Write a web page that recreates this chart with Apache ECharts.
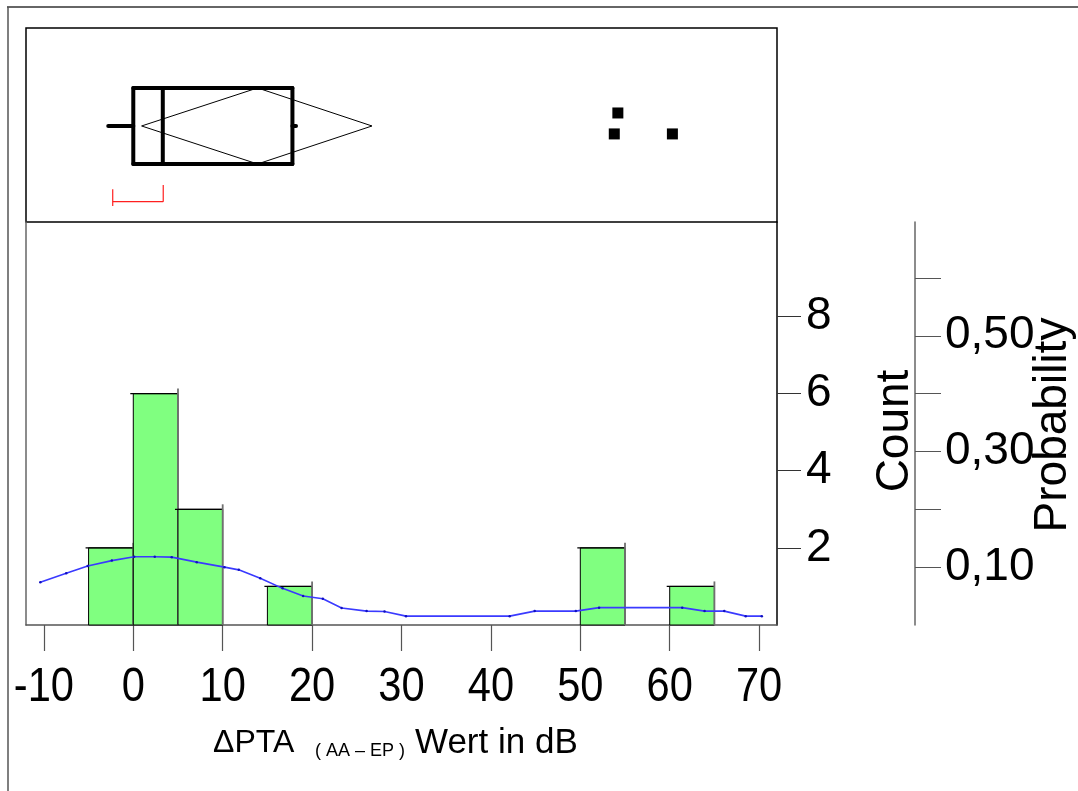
<!DOCTYPE html>
<html>
<head>
<meta charset="utf-8">
<script src="https://cdn.jsdelivr.net/npm/echarts@6/dist/echarts.min.js"></script>
<style>
  html, body { margin: 0; padding: 0; background: #fff; }
  #chart { width: 1078px; height: 791px; }
</style>
</head>
<body>
<div id="chart"></div>
<script>
// Histogram bins (dB) and their counts
const binStart = [-5, 0, 5, 15, 50, 60];
const binEnd = [0, 5, 10, 20, 55, 65];
const binCount = [2, 6, 3, 1, 2, 1];

// Smooth density curve, expressed in count units
const curveX = [-10.4, -7.5, -5.1, -2.4, 0.1, 2.4, 4.3, 7.1, 10.2, 11.8, 14.2, 16.7, 19.0, 21.2,
  23.3, 26.1, 28.1, 30.5, 42.1, 44.9, 49.5, 52.1, 61.4, 63.9, 66.1, 68.5, 70.3];
const curveCount = [1.11, 1.34, 1.53, 1.67, 1.77, 1.77, 1.76, 1.63, 1.50, 1.43, 1.21, 0.95, 0.75, 0.68,
  0.44, 0.36, 0.35, 0.23, 0.23, 0.36, 0.36, 0.45, 0.45, 0.36, 0.36, 0.23, 0.23];

// Outlier box plot: lower whisker, Q1, median, Q3, upper whisker
const boxStats = [-2.8, 0, 3.3, 17.8, 18.2];
// Means diamond: lower 95% limit, mean, upper 95% limit
const meanDiamond = [0.93, 13.9, 26.7];
// Shortest half bracket
const shortestHalf = [-2.3, 3.35];
// Outlying values
const outliers = [53.8, 54.2, 60.3];

// Axis ticks and labels
const xTicks = [-10, 0, 10, 20, 30, 40, 50, 60, 70];
const countTicks = [2, 4, 6, 8];
const probTicks = [0.1, 0.2, 0.3, 0.4, 0.5, 0.6];
const probLabels = [0.1, 0.3, 0.5];

const N = binCount.reduce((a, b) => a + b, 0);
const COUNT_MAX = 10.45;
const X_MIN = -12, X_MAX = 72;

// vertical placement inside the box-plot panel (0..1)
const BOX_MID = 0.495, BOX_HALF = 0.196;
const OUTLIER_STACK = [0.454, 0.562, 0.454];

const sans = "'Liberation Sans', Arial, sans-serif";

const chart = echarts.init(document.getElementById('chart'), null, { renderer: 'canvas' });

function renderBox(params, api) {
  const c = (v, lv) => api.coord([v, lv]);
  const [lo, q1, med, q3, hi] = boxStats;
  const top = BOX_MID + BOX_HALF, bot = BOX_MID - BOX_HALF;
  const thick = { stroke: '#000', lineWidth: 4, lineCap: 'round' };
  const red = { stroke: '#ff2020', lineWidth: 1.2 };
  const seg = (a, b, style) => ({ type: 'line', shape: { x1: a[0], y1: a[1], x2: b[0], y2: b[1] }, style });
  const children = [
    seg(c(lo, BOX_MID), c(q1, BOX_MID), thick),
    seg(c(q3, BOX_MID), c(hi, BOX_MID), thick),
    seg(c(q1, top), c(q3, top), thick),
    seg(c(q1, bot), c(q3, bot), thick),
    seg(c(q1, top), c(q1, bot), thick),
    seg(c(med, top), c(med, bot), thick),
    seg(c(q3, top), c(q3, bot), thick),
    {
      type: 'polygon',
      shape: { points: [c(meanDiamond[0], BOX_MID), c(meanDiamond[1], top), c(meanDiamond[2], BOX_MID), c(meanDiamond[1], bot)] },
      style: { fill: 'none', stroke: '#000', lineWidth: 1 }
    },
    seg(c(shortestHalf[0], 0.105), c(shortestHalf[1], 0.105), red),
    seg(c(shortestHalf[0], 0.169), c(shortestHalf[0], 0.082), red),
    seg(c(shortestHalf[1], 0.191), c(shortestHalf[1], 0.105), red)
  ];
  return { type: 'group', children };
}

function renderBin(params, api) {
  const s = api.value(0), e = api.value(1), n = api.value(2);
  const p0 = api.coord([s, n]);
  const p1 = api.coord([e, 0]);
  return {
    type: 'group',
    children: [
      {
        type: 'rect',
        shape: { x: p0[0], y: p0[1], width: p1[0] - p0[0], height: p1[1] - p0[1] },
        style: { fill: '#80ff80', stroke: '#000', lineWidth: 1 }
      },
      {
        type: 'line',
        shape: { x1: p0[0] - 3, y1: p0[1], x2: p1[0], y2: p0[1] },
        style: { stroke: '#000', lineWidth: 1.2 }
      },
      {
        type: 'line',
        shape: { x1: p1[0], y1: p0[1] - 5, x2: p1[0], y2: p1[1] },
        style: { stroke: '#707070', lineWidth: 1.8 }
      }
    ]
  };
}

const option = {
  animation: false,
  backgroundColor: '#fff',
  grid: [
    { left: 26, top: 28, width: 751, height: 194, show: true, borderColor: '#000', borderWidth: 1.5, outerBoundsMode: 'none' },
    { left: 26, top: 222, width: 751, height: 403, outerBoundsMode: 'none' }
  ],
  xAxis: [
    { gridIndex: 0, type: 'value', min: X_MIN, max: X_MAX, show: false },
    {
      gridIndex: 1, type: 'value', min: X_MIN, max: X_MAX,
      axisLine: { show: true, onZero: false, lineStyle: { color: '#555', width: 1.5 } },
      axisTick: { show: true, length: 26, customValues: xTicks, lineStyle: { color: '#555', width: 1.2 } },
      axisLabel: { show: false },
      splitLine: { show: false }
    }
  ],
  yAxis: [
    { gridIndex: 0, type: 'value', min: 0, max: 1, show: false },
    {
      gridIndex: 1, type: 'value', position: 'right', min: 0, max: COUNT_MAX,
      axisLine: { show: true, onZero: false, lineStyle: { color: '#000', width: 1.5 } },
      axisTick: { show: true, length: 24, customValues: countTicks, lineStyle: { color: '#333', width: 1 } },
      axisLabel: { customValues: countTicks, margin: 29, color: '#000', fontSize: 46, fontFamily: sans },
      splitLine: { show: false }
    },
    {
      gridIndex: 1, type: 'value', position: 'right', offset: 138, min: 0, max: COUNT_MAX / N,
      axisLine: { show: true, onZero: false, lineStyle: { color: '#666', width: 1.5 } },
      axisTick: { show: true, length: 26, customValues: probTicks, lineStyle: { color: '#555', width: 1 } },
      axisLabel: {
        customValues: probLabels, margin: 30, color: '#000', fontSize: 46, fontFamily: sans,
        formatter: v => v.toFixed(2).replace('.', ',')
      },
      splitLine: { show: false }
    },
    {
      gridIndex: 1, type: 'value', position: 'left', min: 0, max: 1,
      axisLine: { show: true, onZero: false, lineStyle: { color: '#666', width: 1.5 } },
      axisTick: { show: false }, axisLabel: { show: false }, splitLine: { show: false }
    }
  ],
  series: [
    {
      type: 'custom', xAxisIndex: 0, yAxisIndex: 0,
      data: [[...boxStats, ...meanDiamond, ...shortestHalf]],
      encode: { x: [0, 1, 2, 3, 4] },
      renderItem: renderBox, silent: true
    },
    {
      type: 'scatter', xAxisIndex: 0, yAxisIndex: 0,
      data: outliers.map((v, i) => [v, OUTLIER_STACK[i]]),
      symbol: 'rect', symbolSize: 11, itemStyle: { color: '#000', opacity: 1 }, silent: true
    },
    {
      type: 'custom', xAxisIndex: 1, yAxisIndex: 1,
      data: binStart.map((s, i) => [s, binEnd[i], binCount[i]]),
      encode: { x: [0, 1], y: 2 },
      renderItem: renderBin, silent: true
    },
    {
      type: 'line', xAxisIndex: 1, yAxisIndex: 1, z: 5,
      data: curveX.map((x, i) => [x, curveCount[i]]),
      lineStyle: { color: '#3a3aff', width: 1.6 },
      symbol: 'circle', symbolSize: 2.5, showSymbol: true,
      itemStyle: { color: '#1010c0' }, silent: true
    }
  ],
  graphic: [
    { type: 'line', shape: { x1: 7, y1: 7, x2: 1078, y2: 7 }, style: { stroke: '#333', lineWidth: 1.5 } },
    { type: 'line', shape: { x1: 8, y1: 7, x2: 8, y2: 791 }, style: { stroke: '#555', lineWidth: 1.5 } },
    {
      type: 'text', x: 895, y: 431, rotation: Math.PI / 2,
      style: { text: 'Count', font: '46px ' + sans, fill: '#000', align: 'center', verticalAlign: 'middle' }
    },
    {
      type: 'text', x: 1053, y: 425, rotation: Math.PI / 2,
      style: { text: 'Probability', font: '46px ' + sans, fill: '#000', align: 'center', verticalAlign: 'middle' }
    },
    {
      type: 'text', x: 213, y: 743,
      style: { text: 'ΔPTA', font: '32px ' + sans, fill: '#000', align: 'left', verticalAlign: 'middle' }
    },
    {
      type: 'text', x: 315, y: 751,
      style: { text: '( AA – EP )', font: '18px ' + sans, fill: '#000', align: 'left', verticalAlign: 'middle' }
    },
    {
      type: 'text', x: 415, y: 743,
      style: { text: 'Wert in dB', font: '35px ' + sans, fill: '#000', align: 'left', verticalAlign: 'middle' }
    }
  ]
};

chart.setOption(option);

// x tick labels in a condensed face, placed at the axis positions of each tick value
const xLabelTexts = xTicks.map(v => ({
  type: 'text',
  x: chart.convertToPixel({ xAxisIndex: 1 }, v),
  y: 687,
  scaleX: 0.85,
  style: { text: String(v), font: '49px ' + sans, fill: '#000', align: 'center', verticalAlign: 'middle' }
}));
chart.setOption({ graphic: option.graphic.concat(xLabelTexts) });
</script>
</body>
</html>
